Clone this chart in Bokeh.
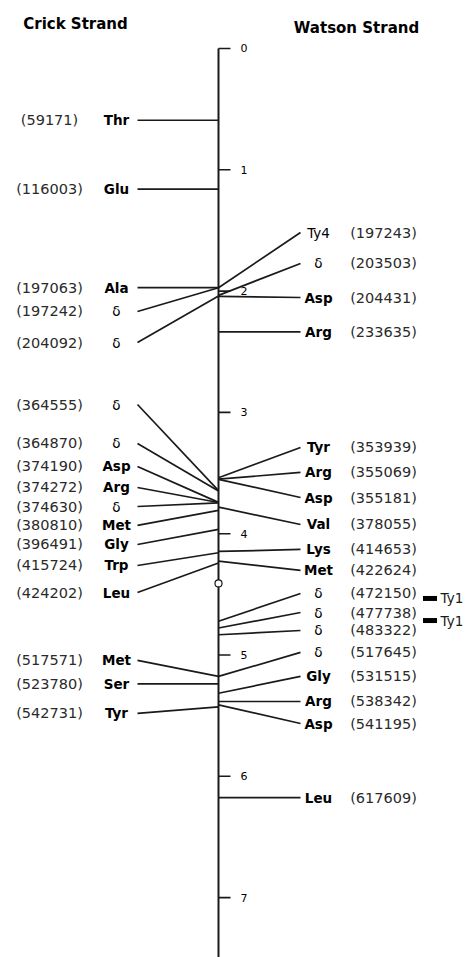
from bokeh.plotting import figure
from bokeh.models import Range1d, ColumnDataSource
from bokeh.core.properties import value
from bokeh.embed import file_html
from bokeh.resources import INLINE

# ---------------- data ----------------
crick_labels = ["Thr", "Glu", "Ala", "δ", "δ", "δ", "δ", "Asp", "Arg", "δ",
                "Met", "Gly", "Trp", "Leu", "Met", "Ser", "Tyr"]
crick_pos = [59171, 116003, 197063, 197242, 204092, 364555, 364870, 374190,
             374272, 374630, 380810, 396491, 415724, 424202, 517571, 523780, 542731]

watson_labels = ["Ty4", "δ", "Asp", "Arg", "Tyr", "Arg", "Asp", "Val", "Lys", "Met",
                 "δ", "δ", "δ", "δ", "Gly", "Arg", "Asp", "Leu"]
watson_pos = [197243, 203503, 204431, 233635, 353939, 355069, 355181, 378055,
              414653, 422624, 472150, 477738, 483322, 517645, 531515, 538342,
              541195, 617609]

ty1_labels = ["Ty1", "Ty1"]
centromere_pos = 441000
tick_values = [0, 1, 2, 3, 4, 5, 6, 7]          # in units of 100 kb
tick_labels = ["0", "1", "2", "3", "4", "5", "6", "7"]
titles = ["Crick Strand", "Watson Strand"]
plain_labels = ["δ", "Ty4"]                      # drawn in regular weight

# ---------------- layout (label slots, in 100 kb units; None = at position) ----
crick_rows = [None, None, None, 2.168, 2.424, 2.935, 3.256, 3.446, 3.619, 3.776,
              3.932, 4.089, 4.262, 4.485, 5.045, None, 5.482]
watson_rows = [1.517, 1.772, 2.053, None, 3.289, 3.495, 3.702, 3.924, 4.130, 4.303,
               4.493, 4.650, 4.798, 4.979, 5.177, None, 5.565, None]
ty1_rows = [4.534, 4.716]

UNIT = 100000.0
AXIS_X = 218
LEFT_END, RIGHT_END = 137, 300
LEFT_NAME_X, LEFT_NUM_X = 116, 49
RIGHT_NAME_X, RIGHT_NUM_X = 318, 383
INK = "#1a1a1a"
FONT = value("DejaVu Sans")
Y_TOP, Y_BOTTOM = -0.3957, 7.494

p = figure(width=469, height=957, x_range=Range1d(0, 469),
           y_range=Range1d(Y_BOTTOM, Y_TOP), output_backend="svg",
           toolbar_location=None, min_border=0)
p.axis.visible = False
p.grid.visible = False
p.outline_line_color = None

# main axis
p.segment(x0=[AXIS_X], y0=[0], x1=[AXIS_X], y1=[Y_BOTTOM], line_color=INK, line_width=2)
p.segment(x0=[AXIS_X] * len(tick_values), y0=tick_values,
          x1=[AXIS_X + 12] * len(tick_values), y1=tick_values,
          line_color=INK, line_width=1.6)
p.text(x=[AXIS_X + 22] * len(tick_values), y=tick_values, text=tick_labels,
       text_font=FONT, text_font_size="11px", text_align="left",
       text_baseline="middle", text_color="#000000")


def side(labels, pos, rows, end_x, name_x, num_x):
    ys = [r if r is not None else q / UNIT for r, q in zip(rows, pos)]
    src = ColumnDataSource(dict(
        x0=[AXIS_X] * len(pos), y0=[q / UNIT for q in pos],
        x1=[end_x] * len(pos), y1=ys,
        nx=[name_x] * len(pos), numx=[num_x] * len(pos),
        name=labels, num=["(%d)" % q for q in pos],
        style=["normal" if l in plain_labels else "bold" for l in labels]))
    p.segment(x0="x0", y0="y0", x1="x1", y1="y1", source=src,
              line_color=INK, line_width=1.7)
    p.text(x="nx", y="y1", text="name", source=src, text_font=FONT,
           text_font_size="13.5px", text_font_style="style", text_align="center",
           text_baseline="middle", text_color="#000000")
    p.text(x="numx", y="y1", text="num", source=src, text_font=FONT,
           text_font_size="14.5px", text_align="center",
           text_baseline="middle", text_color="#2a2a2a")


side(crick_labels, crick_pos, crick_rows, LEFT_END, LEFT_NAME_X, LEFT_NUM_X)
side(watson_labels, watson_pos, watson_rows, RIGHT_END, RIGHT_NAME_X, RIGHT_NUM_X)

# centromere
p.scatter(x=[AXIS_X], y=[centromere_pos / UNIT], size=7, marker="circle",
          fill_color="white", line_color=INK, line_width=1.2)

# Ty1 markers
p.rect(x=[429.5] * len(ty1_rows), y=ty1_rows, width=14, height=5,
       height_units="screen", fill_color="#000000", line_color=None)
p.text(x=[440] * len(ty1_rows), y=ty1_rows, text=ty1_labels, text_font=FONT,
       text_font_size="13.5px", text_align="left", text_baseline="middle",
       text_color=INK)

# strand titles
p.text(x=[75, 356], y=[-0.206, -0.165], text=titles, text_font=FONT,
       text_font_size="15px", text_font_style="bold", text_align="center",
       text_baseline="middle", text_color="#000000")

open("out.html", "w").write(file_html(p, INLINE))
